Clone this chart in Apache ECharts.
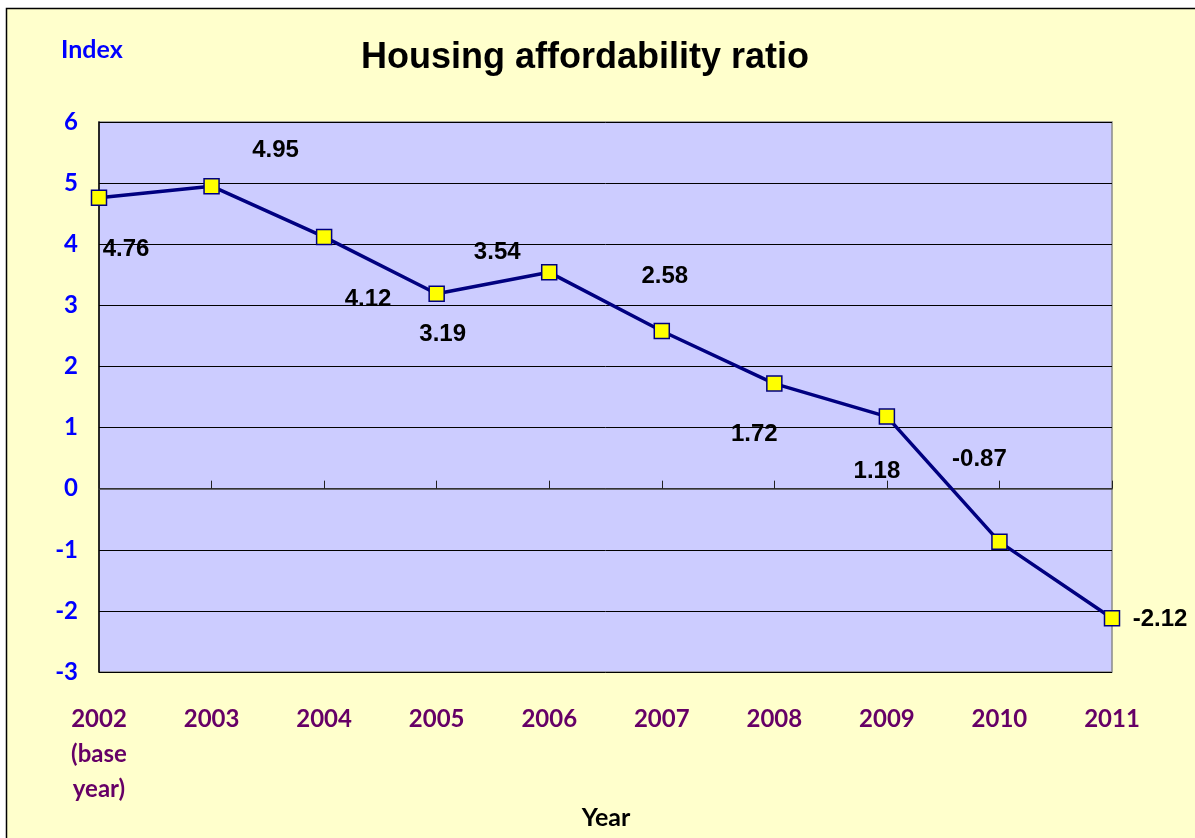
<!DOCTYPE html>
<html>
<head>
<meta charset="utf-8">
<script src="https://cdn.jsdelivr.net/npm/echarts@6/dist/echarts.min.js"></script>
<style>html,body{margin:0;padding:0;background:#fff;}#c{width:1195px;height:838px;}</style>
</head>
<body>
<div id="c"></div>
<script>
const categories = ['2002\n(base\nyear)', '2003', '2004', '2005', '2006', '2007', '2008', '2009', '2010', '2011'];
const values = [4.76, 4.95, 4.12, 3.19, 3.54, 2.58, 1.72, 1.18, -0.87, -2.12];
const labelOffsets = [[27, 52], [64, -36], [44, 62], [6, 41], [-52, -20], [3, -55], [-20, 51], [-10, 55], [-20, -82], [48, 1]];
const yTicks = { min: -3, max: 6, interval: 1 };

const chart = echarts.init(document.getElementById('c'), null, { renderer: 'canvas' });
const axisFont = 'Lato, "Open Sans", sans-serif';
chart.setOption({
  backgroundColor: '#ffffff',
  animation: false,
  graphic: [{
    type: 'rect', z: -10, silent: true,
    shape: { x: 6.5, y: 8.5, width: 1300, height: 1000 },
    style: { fill: '#FFFFCC', stroke: '#000', lineWidth: 1.5 }
  }, {
    type: 'text', left: 61, top: 37,
    style: { text: 'Index', fill: '#0000FF', font: 'bold 25px ' + axisFont }
  }, {
    type: 'text', x: 606, y: 818,
    style: { text: 'Year', fill: '#000', font: 'bold 25px ' + axisFont, align: 'center', verticalAlign: 'middle' }
  }],
  title: {
    text: 'Housing affordability ratio', left: 580, top: 35, textAlign: 'center',
    textStyle: { fontFamily: '"Liberation Sans", Arial, sans-serif', fontSize: 36, fontWeight: 'bold', color: '#000' }
  },
  grid: {
    left: 99, right: 83, top: 122, bottom: 166, show: true, outerBoundsMode: 'none', containLabel: false,
    backgroundColor: '#CCCCFF', borderColor: '#8a8a8a', borderWidth: 1.5
  },
  xAxis: [{
    type: 'category', data: categories, boundaryGap: false, position: 'bottom',
    axisLine: { show: false, onZero: false }, axisTick: { show: false }, splitLine: { show: false },
    axisLabel: { margin: 30, fontFamily: axisFont, fontWeight: 'bold', fontSize: 24, color: '#660066', lineHeight: 35, verticalAlign: 'top' }
  }, {
    type: 'category', data: categories, boundaryGap: false, position: 'top',
    axisLine: { show: true, onZero: true, lineStyle: { color: '#444', width: 1.5 } },
    axisTick: { show: true, length: 8, lineStyle: { color: '#222', width: 1 } },
    axisLabel: { show: false }, splitLine: { show: false }
  }],
  yAxis: {
    type: 'value', min: yTicks.min, max: yTicks.max, interval: yTicks.interval,
    axisLine: { show: true, lineStyle: { color: '#000', width: 1.5 } },
    axisTick: { show: false },
    splitLine: { show: true, lineStyle: { color: '#000', width: 1 } },
    axisLabel: { margin: 21, fontFamily: axisFont, fontWeight: 'bold', fontSize: 24, color: '#0000FF' }
  },
  series: [{
    type: 'line', xAxisIndex: 0, data: values.map((v, i) => ({
      value: v,
      label: { offset: labelOffsets[i] }
    })),
    symbol: 'rect', symbolSize: 15,
    lineStyle: { color: '#000080', width: 3.5 },
    itemStyle: { color: '#FFFF00', borderColor: '#000080', borderWidth: 1.5 },
    label: {
      show: true, position: 'inside', formatter: p => p.value.toFixed(2),
      fontFamily: '"Liberation Sans", Arial, sans-serif', fontWeight: 'bold', fontSize: 24, color: '#000'
    }
  }]
});
</script>
</body>
</html>
